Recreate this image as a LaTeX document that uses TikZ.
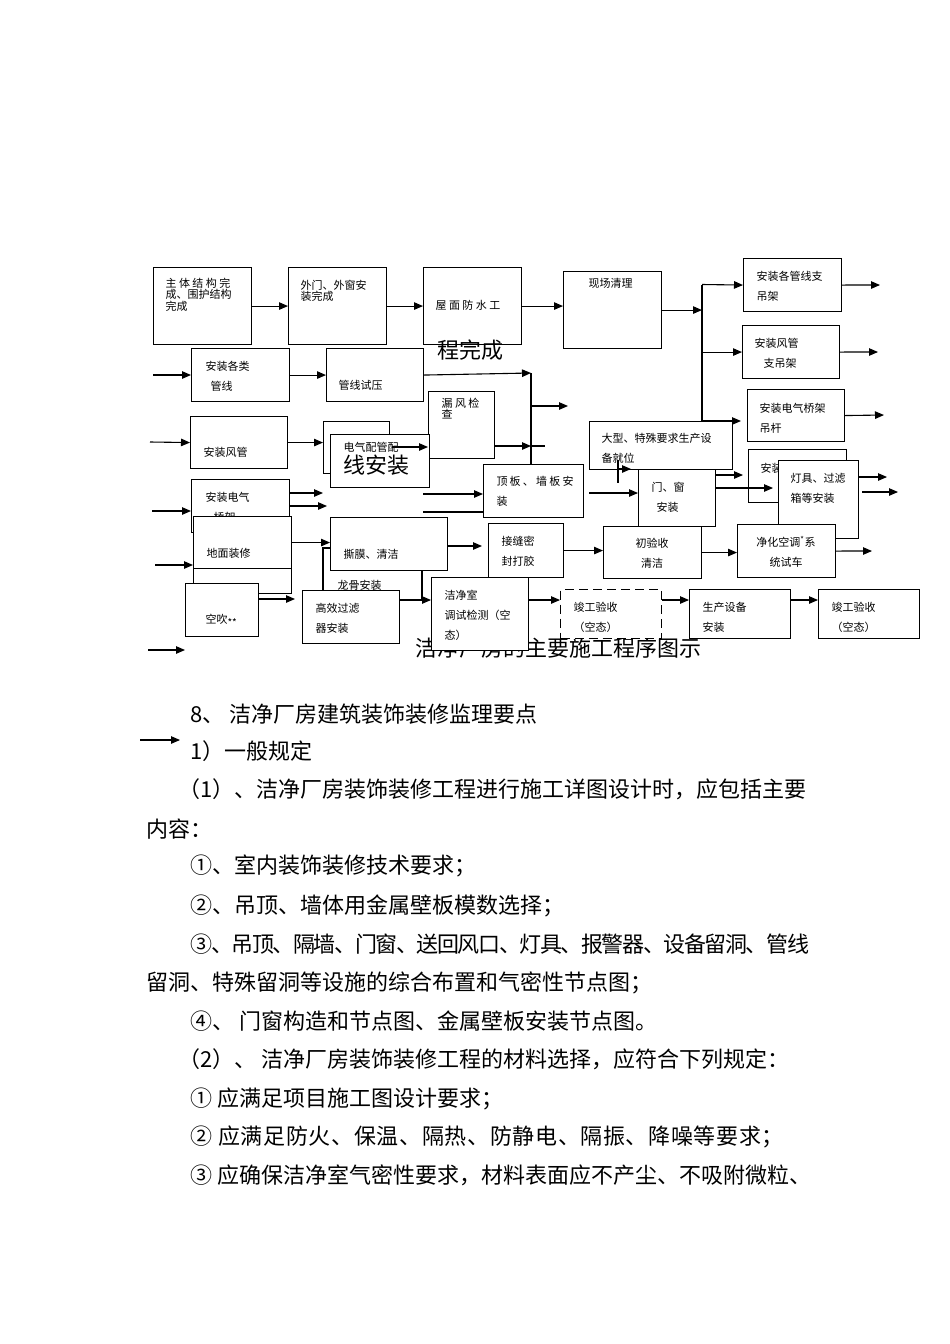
\documentclass[tikz,border=0pt]{standalone}
\usepackage{fontspec}
\setmainfont{Noto Sans CJK SC}
\usetikzlibrary{arrows.meta}

\begin{document}
\begin{tikzpicture}[x=1pt, y=-1pt, >={Triangle[length=9pt,width=7.5pt]}, line width=1.1pt,
  box/.style={draw, fill=white, anchor=north west, inner sep=0pt},
  lbl/.style={anchor=north west, inner sep=0pt, align=left, font=\fontsize{11}{20}\selectfont},
  lbll/.style={lbl, font=\fontsize{11}{11.5}\selectfont},
  big/.style={anchor=west, inner sep=0pt, font=\fontsize{22}{24}\selectfont},
  para/.style={anchor=west, inner sep=0pt, font=\fontsize{22}{24}\selectfont}]

  \useasboundingbox (0,0) rectangle (950,1344);

  \node[big] (title) at (415,648) {洁净厂房的主要施工程序图示};

  \node[box, minimum width=98pt, minimum height=77pt] (A) at (153,267) {};
  \node[lbll] (tA) at (165,277.5) {主 体 结 构 完\\成、围护结构\\完成};
  \node[box, minimum width=98pt, minimum height=77pt] (B) at (288,267) {};
  \node[lbll] (tB) at (300,279.5) {外门、外窗安\\装完成};
  \node[box, minimum width=98pt, minimum height=77pt] (C) at (423,267) {};
  \node[lbl, anchor=west] (tC) at (435,305) {屋 面 防 水 工};
  \node[big] (tC2) at (437,350) {程完成};
  \node[box, minimum width=98pt, minimum height=77pt] (D) at (563,271) {};
  \node[lbl, anchor=west] (tD) at (588,283) {现场清理};

  \node[box, minimum width=98pt, minimum height=53pt] (E) at (743,258) {};
  \node[lbl] (tE) at (756,270.5) {安装各管线支\\吊架};
  \node[box, minimum width=97pt, minimum height=53pt] (F) at (742,325) {};
  \node[lbl] (tF) at (754,337.5) {安装风管\\\hspace*{9pt}支吊架};
  \node[box, minimum width=97pt, minimum height=52pt] (G) at (747,389) {};
  \node[lbl] (tG) at (759,402.5) {安装电气桥架\\吊杆};
  \node[box, minimum width=143pt, minimum height=48pt] (H) at (589,421) {};
  \node[lbl] (tH) at (601,432.5) {大型、特殊要求生产设\\备就位};
  \node[box, minimum width=98pt, minimum height=53pt] (J) at (748,449) {};
  \node[lbl] (tJ) at (760,462.5) {安装};
  \node[box, minimum width=77pt, minimum height=57pt] (I) at (638,469) {};
  \node[lbl] (tI) at (651,481.5) {门、窗\\\hspace*{5pt}安装};
  \node[box, minimum width=80pt, minimum height=78pt] (K) at (778,460) {};
  \node[lbl] (tK) at (790,472.5) {灯具、过滤\\箱等安装};
  \node[box, minimum width=98pt, minimum height=53pt] (L) at (737,524) {};
  \node[lbl, anchor=north, align=center] (tL) at (786,535.5) {净化空调\textsuperscript{*}系\\统试车};
  \node[box, minimum width=98pt, minimum height=52pt] (M) at (603,526) {};
  \node[lbl, anchor=north, align=center] (tM) at (652,537.5) {初验收\\清洁};
  \node[box, minimum width=75pt, minimum height=54pt] (N) at (488,523) {};
  \node[lbl] (tN) at (501,535.5) {接缝密\\封打胶};
  \node[box, dashed, dash pattern=on 9pt off 5pt, minimum width=101pt, minimum height=49pt] (O) at (560,589) {};
  \node[lbl] (tO) at (573,601.5) {竣工验收\\（空态）};
  \node[box, minimum width=101pt, minimum height=49pt] (P) at (689,589) {};
  \node[lbl] (tP) at (702,601.5) {生产设备\\安装};
  \node[box, minimum width=101pt, minimum height=49pt] (Q) at (818,589) {};
  \node[lbl] (tQ) at (831,601.5) {竣工验收\\（空态）};

  \node[box, minimum width=98pt, minimum height=53pt] (R) at (191,348) {};
  \node[lbl] (tR) at (205,360.5) {安装各类\\\hspace*{5pt}管线};
  \node[box, minimum width=97pt, minimum height=53pt] (S) at (326,348) {};
  \node[lbl, anchor=west] (tS) at (338,385) {管线试压};
  \node[box, minimum width=66pt, minimum height=67pt] (T) at (428,391) {};
  \node[lbll] (tT) at (441,397.5) {漏 风 检\\查};
  \node[box, minimum width=97pt, minimum height=52pt] (U) at (190,416) {};
  \node[lbl, anchor=west] (tU) at (203,452) {安装风管};
  \node[box, minimum width=66pt, minimum height=52pt] (V1) at (323,421) {};
  \node[box, minimum width=99pt, minimum height=53pt] (V2) at (330,434) {};
  \node[lbl, anchor=west] (tV) at (343,447) {电气配管配};
  \node[big] (tV2) at (343,465) {线安装};
  \node[box, minimum width=98pt, minimum height=53pt] (W) at (191,479) {};
  \node[lbl] (tW) at (205,491.5) {安装电气\\\hspace*{8pt}桥架};
  \node[box, minimum width=100pt, minimum height=53pt] (X) at (483,464) {};
  \node[lbl] (tX) at (496,475.5) {\addfontfeature{LetterSpace=20}顶板、墙板安\\装};
  \node[box, minimum width=98pt, minimum height=77pt] (Y2) at (193,516) {};
  \node[box, minimum width=98pt, minimum height=52pt] (Y) at (193,516) {};
  \node[lbl, anchor=west] (tY) at (206,553) {地面装修};
  \node[box, minimum width=73pt, minimum height=53pt] (Z) at (185,583) {};
  \node[lbl, anchor=west] (tZ) at (205,620) {空吹\raisebox{-3pt}{\fontsize{10}{10}\selectfont **}};
  \node[box, minimum width=117pt, minimum height=53pt] (AA) at (330,517) {};
  \node[lbl, anchor=west] (tAA) at (343,554) {撕膜、清洁};
  \node[lbl, anchor=west] (tlg) at (337,585) {龙骨安装};
  \node[box, minimum width=97pt, minimum height=53pt] (BB) at (302,590) {};
  \node[lbl] (tBB) at (315,602.5) {高效过滤\\器安装};
  \node[box, minimum width=97pt, minimum height=73pt] (CC) at (431,577) {};
  \node[lbl] (tCC) at (444,589.5) {洁净室\\调试检测（空\\态）};

  \coordinate (trk1) at (702,284.5);
  \coordinate (trk2) at (702,421);
  \coordinate (g0) at (741,421);
  \coordinate (e1) at (880,285);
  \coordinate (f1) at (878,352);
  \coordinate (g1) at (884,415);
  \coordinate (r0) at (153,375);
  \coordinate (s1) at (531,373);
  \coordinate (x1) at (531,406);
  \coordinate (x2) at (568,406);
  \coordinate (t1) at (545,446);
  \coordinate (u0) at (150,442);
  \coordinate (v1) at (392,447);
  \coordinate (w0) at (152,511);
  \coordinate (w1) at (323,493);
  \coordinate (w2) at (327,506);
  \coordinate (x0) at (423,494);
  \coordinate (x3) at (423,512);
  \coordinate (x4) at (589,493);
  \coordinate (h1) at (618,460);
  \coordinate (h2) at (618,483);
  \coordinate (h3) at (618,469);
  \coordinate (h4) at (631,469);
  \coordinate (i1) at (743,475);
  \coordinate (i2) at (773,488);
  \coordinate (k1) at (887,477);
  \coordinate (k2) at (898,492);
  \coordinate (k3) at (862,492);
  \coordinate (l1) at (872,551);
  \coordinate (y0) at (155,565);
  \coordinate (b1) at (323,548);
  \coordinate (aa1) at (482,546);
  \coordinate (z1) at (295,599);
  \coordinate (c0) at (422,600);
  \coordinate (o0) at (545,600);
  \coordinate (q1) at (148,650);
  \coordinate (q2) at (185,650);
  \coordinate (m1) at (140,740);
  \coordinate (m2) at (180,740);

  \draw[->] (A) -- (B);
  \draw[->] (B) -- (C);
  \draw[->] (C.east) -- (C.east -| D.west);
  \draw[->] (D.east) -- (D.east -| trk1);
  \draw[->] (trk1) -- (trk2) -- (g0);
  \draw[->] (trk1) -- (E.west);
  \draw[->] (F.west -| trk1) -- (F.west);
  \draw[->] (E.east) -- (e1);
  \draw[->] (F.east) -- (f1);
  \draw[->] (G.east) -- (g1);
  \draw[->] (r0) -- (r0 -| R.west);
  \draw[->] (R) -- (S);
  \draw[->] (S.east) -- (s1);
  \draw (s1) -- (s1 |- X.north);
  \draw[->] (x1) -- (x2);
  \draw (t1 -| s1) -- (t1);
  \draw[->] (t1 -| T.east) -- (t1 -| s1);
  \draw[->] (u0) -- (U.west);
  \draw[->] (U.east) -- (U.east -| V1.west);
  \draw[->] (v1) -- (v1 -| T.west);
  \draw[->] (w0) -- (w0 -| W.west);
  \draw[->] (w1 -| W.east) -- (w1);
  \draw[->] (w2 -| W.east) -- (w2);
  \draw[->] (x0) -- (x0 -| X.west);
  \draw (x3) -- (x3 -| X.west);
  \draw[->] (x4) -- (x4 -| I.west);
  \draw (h1) -- (h2);
  \draw[->] (h3) -- (h4);
  \draw[->] (i1 -| I.east) -- (i1);
  \draw[->] (i2 -| I.east) -- (i2);
  \draw[->] (k1 -| K.east) -- (k1);
  \draw[->] (k3) -- (k2);
  \draw[->] (M.east) -- (M.east -| L.west);
  \draw[->] (L.east) -- (l1);
  \draw[->] (N.east) -- (N.east -| M.west);
  \draw[->] (y0) -- (y0 -| Y.west);
  \draw[->] (Y.east) -- (Y.east -| AA.west);
  \draw (b1 |- BB.north) -- (b1) -- (b1 -| AA.west);
  \draw[->] (aa1 -| AA.east) -- (aa1);
  \draw[->] (z1 -| Z.east) -- (z1);
  \draw (c0 |- AA.south) -- (c0);
  \draw[->] (c0 -| BB.east) -- (c0 -| CC.west);
  \draw[->] (o0 -| CC.east) -- (o0 -| O.west);
  \draw[->] (o0 -| O.east) -- (o0 -| P.west);
  \draw[->] (o0 -| P.east) -- (o0 -| Q.west);
  \draw[->] (q1) -- (q2);
  \draw[->] (m1) -- (m2);

  \node[para] (p1) at (190,714) {8、 洁净厂房建筑装饰装修监理要点};
  \node[para] (p2) at (190,751) {1）一般规定};
  \node[para] (p3) at (178,789) {（1）、洁净厂房装饰装修工程进行施工详图设计时，应包括主要};
  \node[para] (p4) at (146,829) {内容：};
  \node[para] (p5) at (190,866) {①、室内装饰装修技术要求；};
  \node[para] (p6) at (190,906) {②、吊顶、墙体用金属壁板模数选择；};
  \node[para] (p7) at (190,944) {\addfontfeature{LetterSpace=-6.5}③、吊顶、隔墙、门窗、送回风口、灯具、报警器、设备留洞、管线};
  \node[para] (p8) at (146,983) {留洞、特殊留洞等设施的综合布置和气密性节点图；};
  \node[para] (p9) at (190,1021) {④、 门窗构造和节点图、金属壁板安装节点图。};
  \node[para] (p10) at (178,1059) {（2）、 洁净厂房装饰装修工程的材料选择，应符合下列规定：};
  \node[para] (p11) at (190,1099) {① 应满足项目施工图设计要求；};
  \node[para] (p12) at (190,1137) {\addfontfeature{LetterSpace=3}② 应满足防火、保温、隔热、防静电、隔振、降噪等要求；};
  \node[para] (p13) at (190,1175) {③ 应确保洁净室气密性要求，材料表面应不产尘、不吸附微粒、};
\end{tikzpicture}
\end{document}
